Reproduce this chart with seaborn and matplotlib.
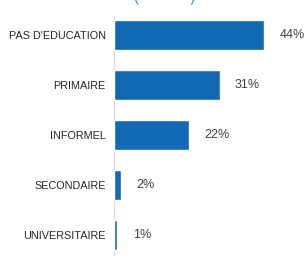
import matplotlib
matplotlib.use("Agg")
import matplotlib.pyplot as plt
import seaborn as sns
import pandas as pd

categories = ["PAS D'EDUCATION", "PRIMAIRE", "INFORMEL", "SECONDAIRE", "UNIVERSITAIRE"]
values = [44, 31, 22, 2, 1]
value_labels = ["44%", "31%", "22%", "2%", "1%"]

sns.set_theme(style="white")
plt.rcParams['font.family'] = ['Liberation Sans', 'DejaVu Sans']

df = pd.DataFrame({"cat": categories, "val": values})

W, H = 307, 260
fig = plt.figure(figsize=(W / 100, H / 100), dpi=100)
ax = fig.add_axes([114 / W, 0 / H, 193 / W, 250 / H])

sns.barplot(data=df, x="val", y="cat", color="#1369B4", saturation=1, width=0.6, ax=ax, orient="h")

ax.set_xlim(0, 56.6)
ax.set_ylim(4.5, -0.5)
ax.set_xlabel("")
ax.set_ylabel("")
ax.set_xticks([])
for s in ax.spines.values():
    s.set_visible(False)
ax.axvline(0, ymin=0.02, ymax=0.97, color="#d9d9d9", lw=1.6, zorder=0)
ax.tick_params(axis="y", length=0, pad=6, labelsize=7.8, labelcolor="#262626")

for i, (v, lab) in enumerate(zip(values, value_labels)):
    ax.annotate(lab, xy=(v, i), xytext=(11, 0), textcoords="offset points",
                va="center", ha="left", fontsize=9, color="#404040")

fig.text(165 / W, 1 - 2 / H, "(            )", ha="center", va="baseline",
         fontsize=11, color="#4a90d9")

fig.savefig("out.png", dpi=100)
